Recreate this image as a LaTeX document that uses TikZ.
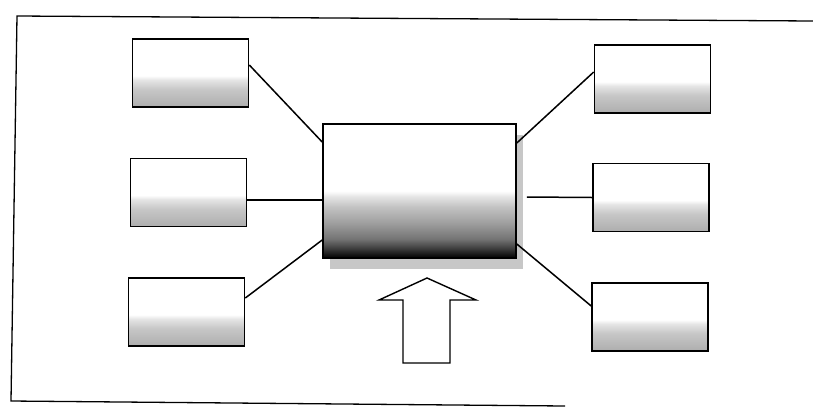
\documentclass[tikz,border=0pt]{standalone}
\usepackage{tikz}
\usetikzlibrary{shadows}

\pgfdeclareverticalshading{sidefill}{100bp}{color(0bp)=(black!32); color(25bp)=(black!32);
  color(38bp)=(black!22); color(45bp)=(black!10); color(48bp)=(white); color(100bp)=(white)}
\pgfdeclareverticalshading{hubfill}{100bp}{color(0bp)=(black); color(25bp)=(black);
  color(28bp)=(black!80); color(32bp)=(black!55); color(38bp)=(black!38);
  color(44bp)=(black!24); color(48bp)=(black!10); color(50bp)=(white); color(100bp)=(white)}

\begin{document}
\begin{tikzpicture}[
    x=1pt, y=-1pt,
    sidebox/.style={rectangle, draw, line width=1.6pt, shading=sidefill,
                    minimum width=116pt, minimum height=68pt, inner sep=0pt},
    hubbox/.style={rectangle, draw, line width=1.6pt, shading=hubfill,
                   minimum width=193pt, minimum height=134pt, inner sep=0pt,
                   drop shadow={shadow xshift=7pt, shadow yshift=-11pt,
                                fill=black!22, opacity=1}},
    link/.style={line width=1.5pt},
    frame/.style={line width=1.3pt},
    bigarrow/.style={line width=1.4pt, fill=white, line join=miter}
]
\useasboundingbox (0,0) rectangle (813,408);

% outer frame
\draw[frame] (813,21) -- (17,16) -- (11,401) -- (565,406);

% centre block and its six satellites
\node[hubbox] (hub) at (419.5,191) {};
\node[sidebox] (tl) at (190.5,73) {};
\node[sidebox] (ml) at (188.5,192.5) {};
\node[sidebox] (bl) at (186.5,312) {};
\node[sidebox] (tr) at (652.5,79) {};
\node[sidebox] (mr) at (651,197.5) {};
\node[sidebox] (br) at (650,317) {};

\draw[link] ([yshift=8pt]tl.east) -- ([yshift=49pt]hub.west);
\draw[link] ([yshift=-7.5pt]ml.east) -- ([yshift=-9pt]hub.west);
\draw[link] ([yshift=14pt]bl.east) -- ([yshift=-49pt]hub.west);
\draw[link] ([yshift=48pt]hub.east) -- ([yshift=7pt]tr.west);
\draw[link] ([xshift=10pt,yshift=-6pt]hub.east) -- (mr.west);
\draw[link] ([yshift=-53pt]hub.east) -- ([yshift=11pt]br.west);

% input arrow
\draw[bigarrow] (427,278) -- (476,300) -- (450,300) -- (450,363)
  -- (403,363) -- (403,300) -- (379,300) -- cycle;

\end{tikzpicture}
\end{document}
